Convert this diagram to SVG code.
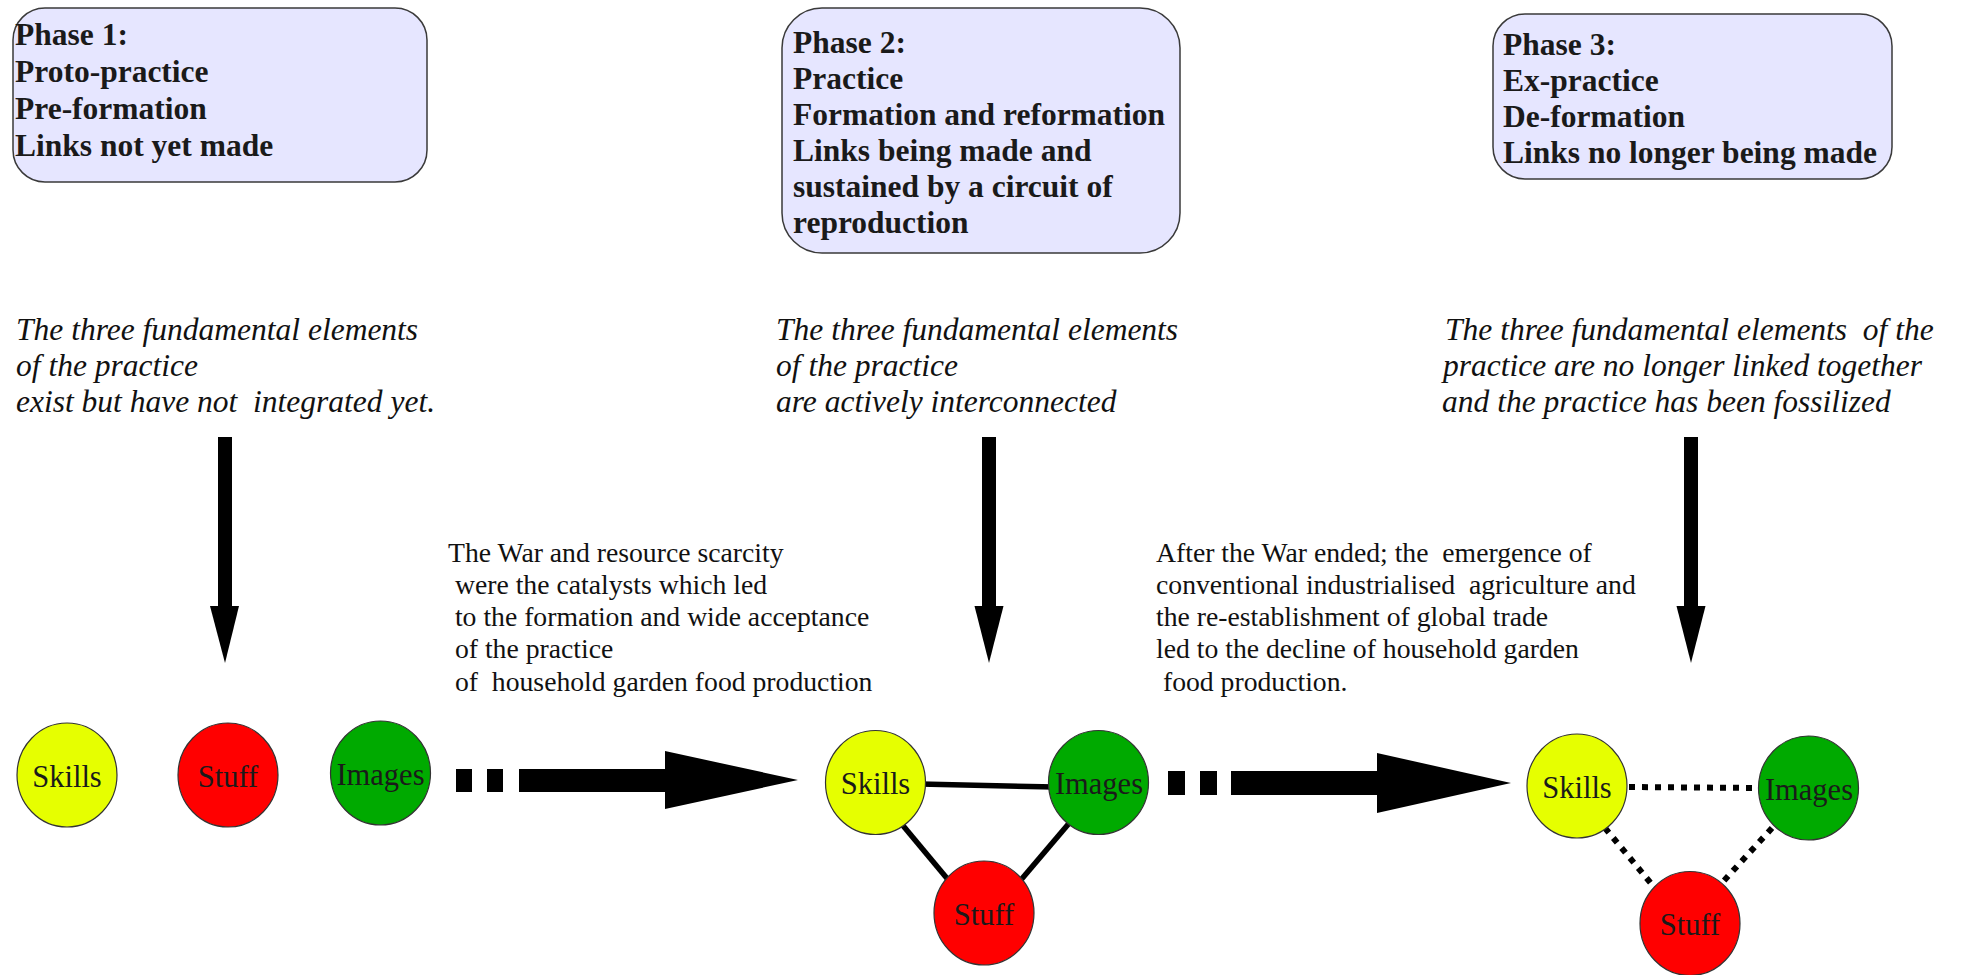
<svg xmlns="http://www.w3.org/2000/svg" width="1968" height="975" viewBox="0 0 1968 975">
<style>
.box{fill:#e6e6ff;stroke:#3a3a3a;stroke-width:1.5}
.bt{font-family:"Liberation Serif",serif;font-weight:bold;font-size:31.5px;fill:#1a1a1a}
.it{font-family:"Liberation Serif",serif;font-style:italic;font-size:31.5px;fill:#111}
.mt{font-family:"Liberation Serif",serif;font-size:27.7px;fill:#111}
.lbl{font-family:"Liberation Serif",serif;font-size:30.5px;fill:#1a1a1a;text-anchor:middle}
.c{stroke:#333;stroke-width:1.2}
.sk{fill:#e6ff00}
.st{fill:#ff0000}
.im{fill:#00aa00}
.solid{stroke:#000;stroke-width:5.5;fill:none}
.dot{stroke:#000;stroke-width:6;stroke-dasharray:6 7;fill:none}
.blk{fill:#000}
</style>
<rect width="1968" height="975" fill="#fff"/>

<g id="phase1-box">
<rect class="box" x="13" y="8" width="414" height="174" rx="32"/>
<text class="bt" x="15" y="45">Phase 1:</text>
<text class="bt" x="15" y="82">Proto-practice</text>
<text class="bt" x="15" y="119">Pre-formation</text>
<text class="bt" x="15" y="156">Links not yet made</text>
</g>
<g id="phase2-box">
<rect class="box" x="782" y="8" width="398" height="245" rx="40"/>
<text class="bt" x="793" y="53">Phase 2:</text>
<text class="bt" x="793" y="89">Practice</text>
<text class="bt" x="793" y="125">Formation and reformation</text>
<text class="bt" x="793" y="161">Links being made and</text>
<text class="bt" x="793" y="197">sustained by a circuit of</text>
<text class="bt" x="793" y="233">reproduction</text>
</g>
<g id="phase3-box">
<rect class="box" x="1493" y="14" width="399" height="165" rx="32"/>
<text class="bt" x="1503" y="55">Phase 3:</text>
<text class="bt" x="1503" y="91">Ex-practice</text>
<text class="bt" x="1503" y="127">De-formation</text>
<text class="bt" x="1503" y="163">Links no longer being made</text>
</g>

<g id="phase1-desc">
<text class="it" x="16" y="340">The three fundamental elements</text>
<text class="it" x="16" y="376">of the practice</text>
<text class="it" x="16" y="412" xml:space="preserve">exist but have not  integrated yet.</text>
</g>
<g id="phase2-desc">
<text class="it" x="776" y="340">The three fundamental elements</text>
<text class="it" x="776" y="376">of the practice</text>
<text class="it" x="776" y="412">are actively interconnected</text>
</g>
<g id="phase3-desc">
<text class="it" x="1445" y="340" xml:space="preserve">The three fundamental elements  of the</text>
<text class="it" x="1443" y="376">practice are no longer linked together</text>
<text class="it" x="1442" y="412">and the practice has been fossilized</text>
</g>

<g id="transition1-text">
<text class="mt" x="448" y="562">The War and resource scarcity</text>
<text class="mt" x="448" y="594" xml:space="preserve"> were the catalysts which led</text>
<text class="mt" x="448" y="626" xml:space="preserve"> to the formation and wide acceptance</text>
<text class="mt" x="448" y="658" xml:space="preserve"> of the practice</text>
<text class="mt" x="448" y="691" xml:space="preserve"> of  household garden food production</text>
</g>
<g id="transition2-text">
<text class="mt" x="1156" y="562" xml:space="preserve">After the War ended; the  emergence of</text>
<text class="mt" x="1156" y="594" xml:space="preserve">conventional industrialised  agriculture and</text>
<text class="mt" x="1156" y="626">the re-establishment of global trade</text>
<text class="mt" x="1156" y="658">led to the decline of household garden</text>
<text class="mt" x="1156" y="691" xml:space="preserve"> food production.</text>
</g>

<g id="connectors">
<rect class="blk" x="218" y="437" width="14" height="171"/>
<polygon class="blk" points="210,606 239,606 225,663"/>
<rect class="blk" x="982" y="437" width="14" height="171"/>
<polygon class="blk" points="974.5,606 1003.5,606 989,663"/>
<rect class="blk" x="1684" y="437" width="14" height="171"/>
<polygon class="blk" points="1676.5,606 1705.5,606 1691,663"/>
<rect class="blk" x="456" y="769" width="16" height="23"/>
<rect class="blk" x="487" y="769" width="16" height="23"/>
<rect class="blk" x="519" y="769" width="147" height="23"/>
<polygon class="blk" points="665,751 798,780 665,809"/>
<rect class="blk" x="1168" y="771" width="17" height="24"/>
<rect class="blk" x="1200" y="771" width="17" height="24"/>
<rect class="blk" x="1231" y="771" width="147" height="24"/>
<polygon class="blk" points="1377,753 1511,783 1377,813"/>
<line class="solid" x1="920" y1="784" x2="1055" y2="787"/>
<line class="solid" x1="900" y1="822" x2="950" y2="882"/>
<line class="solid" x1="1071" y1="821" x2="1020" y2="881"/>
<line class="dot" x1="1629" y1="787" x2="1759" y2="788"/>
<line class="dot" x1="1605" y1="828" x2="1654" y2="887"/>
<line class="dot" x1="1772" y1="828" x2="1720" y2="885"/>
</g>

<g id="p1-skills"><ellipse class="c sk" cx="67" cy="775" rx="50" ry="52"/><text class="lbl" x="67" y="787">Skills</text></g>
<g id="p1-stuff"><ellipse class="c st" cx="228" cy="775" rx="50" ry="52"/><text class="lbl" x="228" y="787">Stuff</text></g>
<g id="p1-images"><ellipse class="c im" cx="380.5" cy="773" rx="50" ry="52"/><text class="lbl" x="380.5" y="785">Images</text></g>

<g id="p2-skills"><ellipse class="c sk" cx="875.5" cy="782.5" rx="50" ry="52"/><text class="lbl" x="875.5" y="794">Skills</text></g>
<g id="p2-images"><ellipse class="c im" cx="1098.5" cy="782.5" rx="50" ry="52"/><text class="lbl" x="1099" y="794">Images</text></g>
<g id="p2-stuff"><ellipse class="c st" cx="984" cy="913" rx="50" ry="52"/><text class="lbl" x="984" y="925">Stuff</text></g>

<g id="p3-skills"><ellipse class="c sk" cx="1577" cy="786" rx="50" ry="52"/><text class="lbl" x="1577" y="798">Skills</text></g>
<g id="p3-images"><ellipse class="c im" cx="1808.5" cy="788" rx="50" ry="52"/><text class="lbl" x="1809" y="800">Images</text></g>
<g id="p3-stuff"><ellipse class="c st" cx="1690" cy="923.5" rx="50" ry="52"/><text class="lbl" x="1690" y="935">Stuff</text></g>
</svg>
